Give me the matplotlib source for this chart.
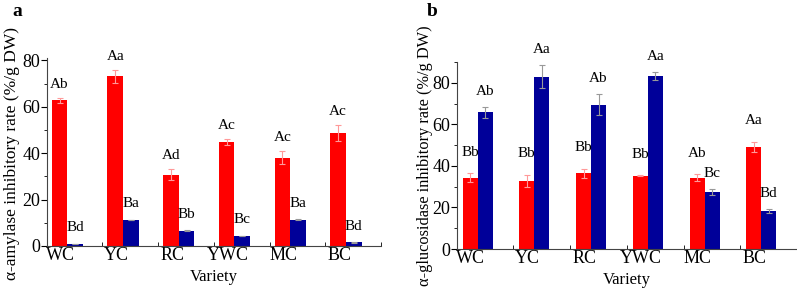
import numpy as np
import matplotlib
matplotlib.use("Agg")
import matplotlib.pyplot as plt
from matplotlib.ticker import MultipleLocator, FixedLocator

plt.rcParams['font.family'] = ['Liberation Serif', 'DejaVu Serif']

varieties = ["WC", "YC", "RC", "YWC", "MC", "BC"]

# panel a: alpha-amylase inhibitory rate
amy_red = [62.7, 73.1, 30.8, 44.9, 38.1, 48.7]
amy_red_err = [1.0, 2.7, 2.3, 1.4, 2.8, 3.6]
amy_blue = [0.9, 11.2, 6.6, 4.3, 11.3, 1.6]
amy_blue_err = [0.1, 0.2, 0.2, 0.2, 0.2, 0.1]
amy_red_lab = ["Ab", "Aa", "Ad", "Ac", "Ac", "Ac"]
amy_blue_lab = ["Bd", "Ba", "Bb", "Bc", "Ba", "Bd"]

# panel b: alpha-glucosidase inhibitory rate
glu_red = [34.4, 32.8, 36.5, 35.2, 34.4, 49.3]
glu_red_err = [2.1, 2.9, 2.1, 0.3, 1.7, 2.4]
glu_blue = [65.7, 82.9, 69.4, 83.3, 27.4, 18.4]
glu_blue_err = [2.6, 5.6, 5.1, 1.8, 1.4, 1.0]
glu_red_lab = ["Bb", "Bb", "Bb", "Bb", "Ab", "Aa"]
glu_blue_lab = ["Ab", "Aa", "Ab", "Aa", "Bc", "Bd"]

RED = "#FF0000"
BLUE = "#000099"

fig = plt.figure(figsize=(7.97, 2.89), dpi=100)
ax_a = fig.add_axes([47 / 797, 43 / 289, 334 / 797, 188 / 289])
ax_b = fig.add_axes([457 / 797, 40 / 289, 340 / 797, 187 / 289])


def draw(ax, red, red_err, blue, blue_err, red_lab, blue_lab, width, ylim,
         ylabel, ylabel_size, red_off, blue_off):
    x = np.arange(len(varieties))
    ax.bar(x - width / 2, red, width, color=RED, yerr=red_err,
           error_kw=dict(ecolor="#FF9999", elinewidth=0.8, capsize=2, capthick=0.8))
    ax.bar(x + width / 2, blue, width, color=BLUE, yerr=blue_err,
           error_kw=dict(ecolor="#999999", elinewidth=0.8, capsize=2, capthick=0.8))
    for i in range(len(x)):
        ax.annotate(red_lab[i], (x[i] - width / 2, red[i] + red_err[i]),
                    xytext=(0, red_off), textcoords="offset points",
                    ha="center", va="center", fontsize=11)
        ax.annotate(blue_lab[i], (x[i] + width / 2, blue[i] + blue_err[i]),
                    xytext=(0, blue_off), textcoords="offset points",
                    ha="center", va="center", fontsize=11)
    ax.set_xlim(-0.365, 5.63)
    ax.set_ylim(*ylim)
    ax.set_xticks(x - 0.12)
    ax.set_xticklabels(varieties, fontsize=13)
    ax.xaxis.set_minor_locator(FixedLocator(x + 0.63))
    ax.tick_params(axis="x", which="major", length=0, pad=1)
    ax.tick_params(axis="x", which="minor", direction="in", length=3, width=0.6)
    ax.yaxis.set_major_locator(MultipleLocator(20))
    ax.yaxis.set_minor_locator(MultipleLocator(10))
    ax.tick_params(axis="y", which="major", direction="out", length=4, width=0.8,
                   labelsize=13, pad=1)
    ax.tick_params(axis="y", which="minor", direction="out", length=2, width=0.6)
    for s in ["top", "right"]:
        ax.spines[s].set_visible(False)
    for s in ["left", "bottom"]:
        ax.spines[s].set_color("#444444")
        ax.spines[s].set_linewidth(0.8)
    ax.set_xlabel("Variety", fontsize=12, labelpad=3)
    ax.set_ylabel(ylabel, fontsize=ylabel_size, va="center")


draw(ax_a, amy_red, amy_red_err, amy_blue, amy_blue_err, amy_red_lab, amy_blue_lab,
     0.28, (0, 81), "α-amylase inhibitory rate (%/g DW)", 12.5, 9.5, 11.5)
draw(ax_b, glu_red, glu_red_err, glu_blue, glu_blue_err, glu_red_lab, glu_blue_lab,
     0.265, (0, 90), "α-glucosidase inhibitory rate (%/g DW)", 11.8, 15, 11)
ax_a.yaxis.set_label_coords((12 - 47) / 334, 0.49)
ax_b.yaxis.set_label_coords((425 - 457) / 340, 0.5)

fig.text(17 / 797, 1 - 11 / 289, "a", fontsize=14, fontweight="bold", ha="center", va="center")
fig.text(432 / 797, 1 - 11 / 289, "b", fontsize=14, fontweight="bold", ha="center", va="center")

fig.savefig("out.png", dpi=100)
